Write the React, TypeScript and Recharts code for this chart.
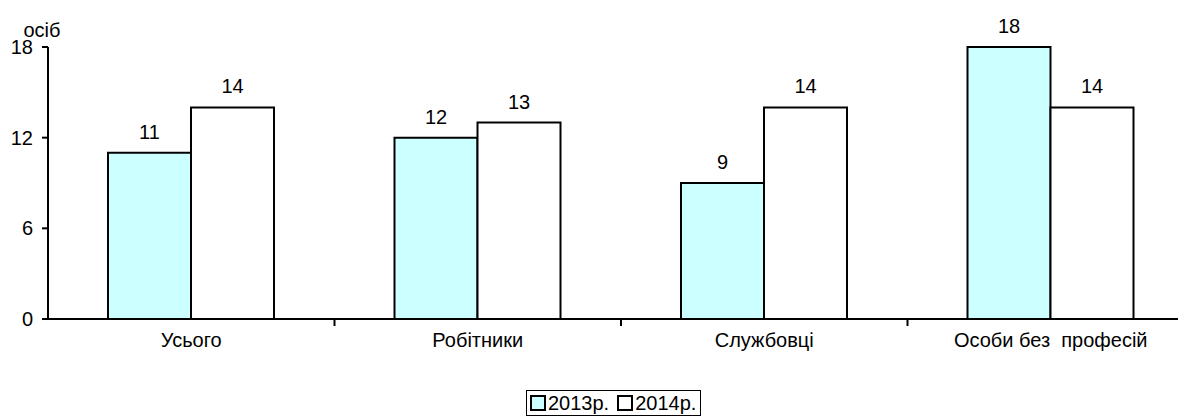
import { Bar, BarChart, LabelList, Legend, XAxis, YAxis } from "recharts";

const categories = ["Усього", "Робітники", "Службовці", "Особи без  професій"];
const values2013 = [11, 12, 9, 18];
const values2014 = [14, 13, 14, 14];
const yTicks = [0, 6, 12, 18];
const seriesNames = ["2013р.", "2014р."];

const FONT = "'Liberation Sans', Arial, sans-serif";
const FONT_SIZE = 20;
const CHART_WIDTH = 1190;
const PLOT_LEFT = 40;
const PLOT_RIGHT = 4;
const BAND = (CHART_WIDTH - PLOT_LEFT - PLOT_RIGHT) / categories.length;

const data = categories.map((name, i) => ({
    name,
    y2013: values2013[i],
    y2014: values2014[i],
}));

function CategoryTick({ x, y, payload, index }: any) {
    return (
        <g>
            {index < categories.length - 1 && (
                <line x1={x + BAND / 2} x2={x + BAND / 2} y1={y} y2={y + 7} stroke="#000" strokeWidth={2} />
            )}
            <text x={x} y={y + 28} textAnchor="middle" fontSize={FONT_SIZE} fontFamily={FONT} fill="#000" style={{ whiteSpace: "pre" }}>
                {payload.value}
            </text>
        </g>
    );
}

function LegendBox() {
    const fills = ["#CCFFFF", "#FFFFFF"];
    return (
        <div
            style={{
                display: "inline-flex",
                alignItems: "center",
                border: "1px solid #000",
                padding: "1px 4px 1px 3px",
                fontFamily: FONT,
                fontSize: FONT_SIZE,
                lineHeight: "22px",
                background: "#fff",
            }}
        >
            {seriesNames.map((s, i) => (
                <span key={s} style={{ display: "inline-flex", alignItems: "center", marginRight: i === 0 ? 8 : 0 }}>
                    <span
                        style={{
                            display: "inline-block",
                            width: 12,
                            height: 12,
                            border: "2px solid #000",
                            background: fills[i],
                            marginRight: 2,
                        }}
                    />
                    {s}
                </span>
            ))}
        </div>
    );
}

export default function App() {
    return (
        <div style={{ width: 1178, overflow: "hidden" }}>
            <BarChart
                width={CHART_WIDTH}
                height={409}
                data={data}
                margin={{ top: 39, right: PLOT_RIGHT, left: 0, bottom: 38 }}
                barGap={0}
                barSize={83}
            >
                <XAxis
                    dataKey="name"
                    height={60}
                    axisLine={{ stroke: "#000", strokeWidth: 2 }}
                    tickLine={false}
                    tickSize={0}
                    tickMargin={0}
                    interval={0}
                    tick={<CategoryTick />}
                />
                <YAxis
                    width={PLOT_LEFT}
                    domain={[0, 18]}
                    ticks={yTicks}
                    axisLine={{ stroke: "#000", strokeWidth: 2 }}
                    tickLine={{ stroke: "#000", strokeWidth: 2 }}
                    tickSize={6}
                    tickMargin={9}
                    tick={{ fill: "#000", fontSize: FONT_SIZE, fontFamily: FONT }}
                    label={{ value: "осіб", position: "top", offset: 10, dx: 14, fill: "#000", fontSize: FONT_SIZE, fontFamily: FONT }}
                />
                <Legend
                    verticalAlign="middle"
                    align="center"
                    content={<LegendBox />}
                    wrapperStyle={{ top: 382, left: 518, width: "auto", height: "auto" }}
                />
                <Bar dataKey="y2013" name={seriesNames[0]} fill="#CCFFFF" stroke="#000" strokeWidth={2} isAnimationActive={false}>
                    <LabelList dataKey="y2013" position="top" offset={14} fill="#000" fontSize={FONT_SIZE} fontFamily={FONT} />
                </Bar>
                <Bar dataKey="y2014" name={seriesNames[1]} fill="#FFFFFF" stroke="#000" strokeWidth={2} isAnimationActive={false}>
                    <LabelList dataKey="y2014" position="top" offset={14} fill="#000" fontSize={FONT_SIZE} fontFamily={FONT} />
                </Bar>
            </BarChart>
        </div>
    );
}
